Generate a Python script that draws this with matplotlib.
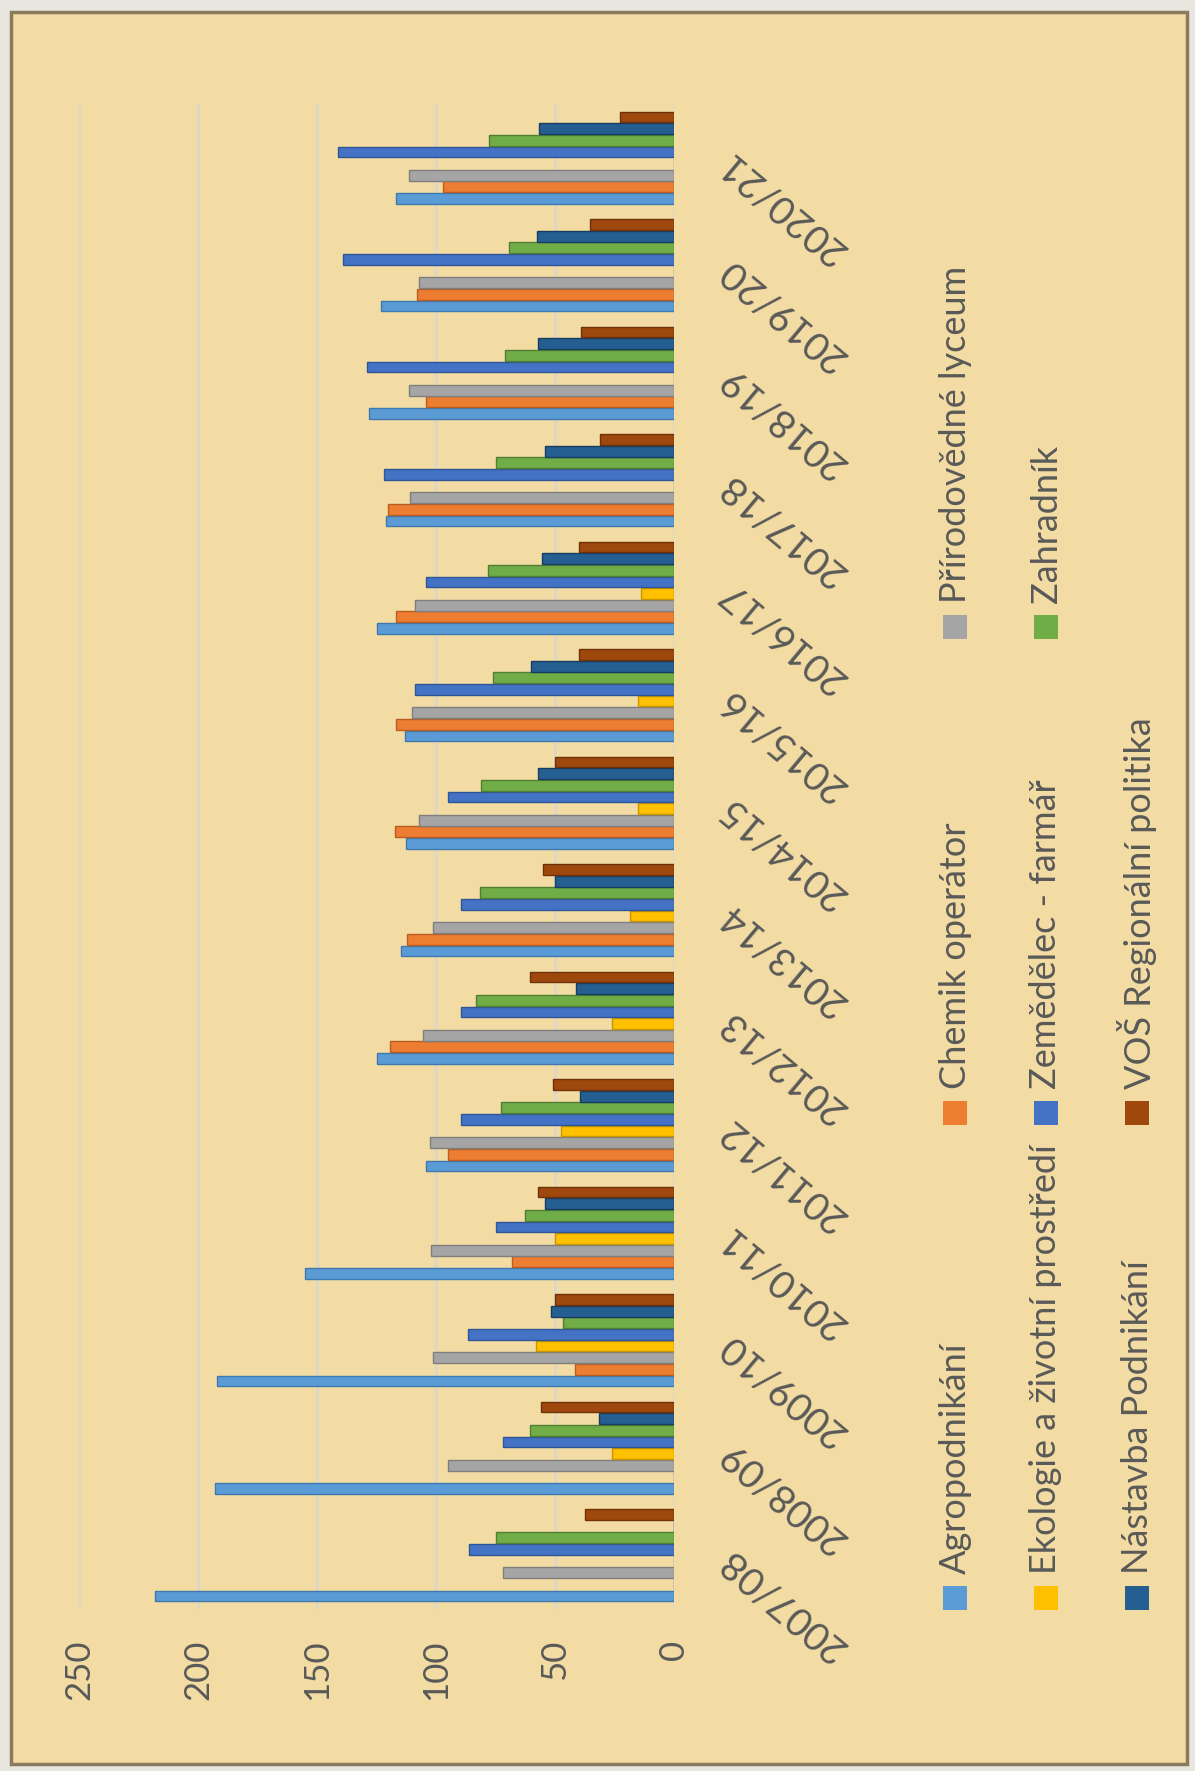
import matplotlib
matplotlib.use("Agg")
import matplotlib.pyplot as plt
from matplotlib.patches import Rectangle
import numpy as np

plt.rcParams['font.family'] = ['Lato', 'DejaVu Sans']

categories = ['2007/08', '2008/09', '2009/10', '2010/11', '2011/12', '2012/13', '2013/14',
              '2014/15', '2015/16', '2016/17', '2017/18', '2018/19', '2019/20', '2020/21']

series_names = ['Agropodnikání', 'Chemik operátor', 'Přírodovědné lyceum',
                'Ekologie a životní prostředí', 'Zemědělec - farmář', 'Zahradník',
                'Nástavba Podnikání', 'VOŠ Regionální politika']

agropodnikani = [218, 193, 192, 155, 104, 124.6, 114.6, 112.5, 113, 125, 121, 128, 123, 117]
chemik = [0, 0, 41.7, 68, 95, 119.5, 112, 117.4, 116.7, 117, 120, 104, 108, 97]
lyceum = [72, 95, 101.4, 102, 102.5, 105.6, 101.4, 107, 110, 109, 111, 111.5, 107, 111.5]
ekologie = [0, 26, 57.8, 50, 47.3, 26, 18.5, 15, 15, 14, 0, 0, 0, 0]
zemedelec = [86, 72, 86.5, 74.6, 89.4, 89.4, 89.4, 95, 109, 104, 122, 129, 139, 141]
zahradnik = [75, 60.5, 46.6, 62.7, 72.5, 83, 81.6, 81, 76, 78, 75, 71, 69.5, 77.6]
nastavba = [0, 31.5, 51.5, 54, 39.5, 41, 50, 57, 60, 55.5, 54, 57, 57.4, 56.7]
vos = [37.5, 55.7, 50, 57, 51, 60.6, 55, 50, 40, 40, 31, 39, 35.5, 22.5]

value_ticks = [0, 50, 100, 150, 200, 250]

all_series = [agropodnikani, chemik, lyceum, ekologie, zemedelec, zahradnik, nastavba, vos]
colors = ['#5B9BD5', '#ED7D31', '#A5A5A5', '#FFC000', '#4472C4', '#70AD47', '#255E91', '#9E480E']
edge_colors = ['#3F78AD', '#B85E22', '#7E7E7E', '#C79600', '#2F5597', '#507F33', '#163D60', '#6E3109']

W, H = 1195, 1771
fig = plt.figure(figsize=(W / 100, H / 100), dpi=100)
fig.patch.set_facecolor('#E9E6E0')

# papyrus panel
panel = Rectangle((11 / W, 1 - 1764 / H), (1187 - 11) / W, (1764 - 12) / H,
                  transform=fig.transFigure, facecolor='#F3DCA3', edgecolor='#8A7A5E',
                  linewidth=2.5, zorder=-10)
fig.patches.append(panel)

text_color = '#595959'

ax = fig.add_axes([79 / W, 1 - 1609 / H, (674 - 79) / W, (1609 - 104) / H])
ax.set_facecolor('none')
ax.set_zorder(2)

n_series = len(all_series)
slot = 0.108
bar_h = 0.1
y = np.arange(len(categories))
for k, (vals, c, ec) in enumerate(zip(all_series, colors, edge_colors)):
    offs = (k - (n_series - 1) / 2) * slot
    ax.barh(y + offs, vals, height=bar_h, color=c, edgecolor=ec, linewidth=1.0, zorder=3)

ax.set_xlim(250, 0)
ax.set_ylim(-0.5, len(categories) - 0.5)

ax.set_xticks(value_ticks)
ax.set_xticklabels([str(v) for v in value_ticks], rotation=90, fontsize=25, color=text_color)
ax.tick_params(axis='x', length=0, pad=22)
ax.grid(axis='x', color='#DCD7CB', linewidth=2, zorder=1)
ax.set_axisbelow(True)

ax.yaxis.tick_right()
ax.set_yticks(y)
ax.set_yticklabels(categories, fontsize=28, color=text_color)
ax.tick_params(axis='y', length=0, pad=36)
for t in ax.get_yticklabels():
    t.set_rotation(140)
    t.set_rotation_mode('anchor')
    t.set_ha('right')
    t.set_va('center')

for s in ax.spines.values():
    s.set_visible(False)

# legend (rotated layout)
col_x = [955, 1046, 1137]
row_y = [1598, 1113, 627]
positions = [(0, 0), (0, 1), (0, 2), (1, 0), (1, 1), (1, 2), (2, 0), (2, 1)]
msize = 24
for name, c, (ci, ri) in zip(series_names, colors, positions):
    cx, cy = col_x[ci], row_y[ri]
    fig.patches.append(Rectangle(((cx - msize / 2) / W, 1 - (cy + msize / 2) / H),
                                 msize / W, msize / H, transform=fig.transFigure,
                                 facecolor=c, edgecolor='none', zorder=5))
    fig.text(cx / W, 1 - (cy - msize / 2 - 12) / H, name, rotation=90,
             ha='center', va='bottom', fontsize=26, color=text_color)

fig.savefig('out.png', dpi=100, facecolor=fig.get_facecolor())
